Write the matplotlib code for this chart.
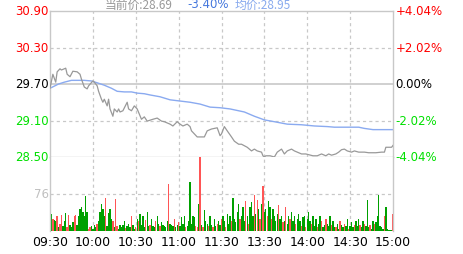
import matplotlib
matplotlib.use("Agg")
import matplotlib.pyplot as plt
import numpy as np

# ---- data ----
prev_close = 29.70
price_min = [0, 2, 4, 5, 7, 8, 11, 12, 14, 16, 19, 21, 22, 24, 26, 27, 30, 31, 33, 34,
             36, 37, 38, 40, 41, 42, 44, 45, 47, 48, 49, 51, 54, 55, 57, 59, 61, 64, 66, 68,
             72, 75, 78, 80, 84, 86, 89, 91, 93, 96, 98, 99, 101, 103, 106, 108, 110, 113, 117, 119,
             120, 122, 124, 127, 129, 132, 134, 138, 141, 143, 145, 148, 149, 150, 151, 154, 157, 159, 162, 164,
             166, 169, 171, 173, 176, 179, 184, 187, 190, 193, 195, 197, 200, 202, 204, 206, 208, 211, 213, 216,
             220, 223, 228, 232, 234, 235, 239, 240]
price_val = [29.63, 29.86, 29.73, 29.90, 29.95, 29.93, 29.96, 29.86, 29.82, 29.91, 29.90, 29.86, 29.78, 29.65, 29.62, 29.67, 29.75, 29.73, 29.67, 29.58,
             29.45, 29.40, 29.45, 29.34, 29.45, 29.29, 29.17, 29.29, 29.24, 29.29, 29.24, 29.26, 29.40, 29.29, 29.26, 29.34, 29.29, 29.12, 29.16, 29.09,
             29.12, 29.14, 29.09, 29.08, 29.04, 29.01, 29.08, 29.04, 29.01, 29.04, 29.00, 28.93, 28.88, 28.83, 28.83, 28.83, 28.93, 28.96, 28.98, 28.85,
             28.88, 29.00, 28.93, 28.83, 28.76, 28.71, 28.71, 28.66, 28.60, 28.63, 28.60, 28.58, 28.52, 28.50, 28.52, 28.52, 28.50, 28.58, 28.63, 28.55,
             28.60, 28.63, 28.60, 28.58, 28.55, 28.55, 28.52, 28.52, 28.55, 28.52, 28.55, 28.53, 28.55, 28.58, 28.62, 28.63, 28.60, 28.58, 28.60, 28.58,
             28.58, 28.57, 28.57, 28.58, 28.58, 28.66, 28.66, 28.69]
avg_min = [0, 6, 10, 15, 20, 24, 29, 33, 38, 43, 47, 52, 57, 61, 66, 70, 77, 84, 91, 98,
           105, 112, 119, 126, 132, 136, 143, 150, 157, 166, 176, 185, 194, 199, 216, 220, 226, 240]
avg_val = [29.63, 29.70, 29.73, 29.76, 29.76, 29.76, 29.75, 29.72, 29.68, 29.63, 29.58, 29.57, 29.57, 29.55, 29.54, 29.52, 29.49, 29.44, 29.42, 29.40,
           29.37, 29.32, 29.31, 29.29, 29.26, 29.24, 29.17, 29.11, 29.08, 29.04, 29.03, 29.01, 29.00, 28.99, 28.99, 28.97, 28.95, 28.95]

volume = [61, 35, 25, 22, 20, 30, 8, 15, 32, 10,
          20, 38, 8, 32, 12, 8, 18, 30, 32, 12,
          30, 45, 50, 40, 30, 71, 40, 5, 8, 10,
          5, 12, 8, 15, 20, 40, 55, 45, 30, 67,
          10, 37, 45, 25, 20, 8, 65, 10, 5, 12,
          8, 12, 20, 6, 10, 15, 8, 30, 12, 5,
          8, 25, 20, 35, 12, 30, 8, 22, 40, 10,
          12, 25, 10, 8, 20, 30, 15, 10, 18, 12,
          10, 8, 20, 96, 15, 12, 10, 25, 8, 12,
          18, 10, 28, 15, 30, 8, 10, 20, 100, 15,
          30, 28, 10, 8, 55, 152, 12, 8, 44, 20,
          15, 10, 30, 12, 8, 25, 10, 15, 20, 12,
          25, 30, 20, 8, 35, 15, 30, 20, 68, 25,
          18, 40, 55, 25, 30, 50, 20, 62, 30, 15,
          50, 60, 30, 74, 35, 64, 45, 25, 55, 92,
          40, 45, 30, 62, 50, 25, 45, 30, 20, 35,
          53, 25, 30, 18, 20, 50, 15, 30, 25, 40,
          20, 30, 15, 25, 35, 20, 10, 28, 30, 8,
          25, 40, 20, 15, 30, 10, 25, 8, 15, 30,
          20, 8, 12, 25, 15, 10, 30, 12, 20, 8,
          8, 15, 5, 20, 12, 8, 15, 10, 25, 5,
          10, 18, 8, 12, 20, 10, 25, 12, 8, 20,
          15, 10, 64, 8, 12, 5, 20, 15, 18, 30,
          73, 10, 8, 5, 30, 50, 5, 3, 3, 3,
          35]
up_minutes = [2, 5, 7, 8, 12, 13, 17, 18, 27, 28, 33, 39, 44, 46, 47, 53, 57, 60, 62, 67, 70, 74, 77,
              83, 87, 90, 95, 102, 103, 105, 107, 111, 114, 117, 120, 123, 127, 133, 137, 139, 143,
              145, 147, 149, 152, 155, 160, 163, 165, 168, 172, 176, 179, 183, 187, 190, 193, 197,
              200, 203, 206, 209, 213, 217, 220, 224, 227, 234, 240]

price_ticks = [30.90, 30.30, 29.70, 29.10, 28.50]
pct_labels = ["+4.04%", "+2.02%", "0.00%", "-2.02%", "-4.04%"]
time_labels = ["09:30", "10:00", "10:30", "11:00", "11:30", "13:30", "14:00", "14:30", "15:00"]
vol_tick = 76
vol_max = 152
header = ["当前价:28.69", "-3.40%", "均价:28.95"]

# ---- style ----
RED = "#ff0000"
GREEN = "#00e000"
GRID = "#c8c8c8"
plt.rcParams['font.family'] = ['Noto Sans CJK SC', 'DejaVu Sans']
FS = 8.5

W, H = 463, 255
fig = plt.figure(figsize=(W / 100, H / 100), dpi=100)
L, R = 50 / W, 393 / W
ax = fig.add_axes([L, (H - 158) / H, R - L, (158 - 12) / H])
axv = fig.add_axes([L, (H - 232) / H, R - L, (232 - 158) / H])

for a in (ax, axv):
    a.set_xlim(0, 240)
    a.set_xticks([])
    a.set_yticks([])
    for s in a.spines.values():
        s.set_color(GRID)
        s.set_linewidth(1)
    for m in range(30, 240, 30):
        a.axvline(m, color=GRID, lw=0.9, ls=(0, (2.5, 2.5)), zorder=0)

ax.set_ylim(price_ticks[-1], price_ticks[0])
ax.axhline(price_ticks[1], color=GRID, lw=0.9, ls=(0, (2.5, 2.5)), zorder=0)
ax.axhline(price_ticks[3], color=GRID, lw=0.9, ls=(0, (2.5, 2.5)), zorder=0)
ax.axhline(prev_close, color=GRID, lw=1.2, zorder=0)

ax.plot(avg_min, avg_val, color="#8aaaf0", lw=1.0, zorder=2)
ax.plot(price_min, price_val, color="#999999", lw=0.9, zorder=3)

lcols = [RED, RED, "black", GREEN, GREEN]
for t, lab, c in zip(price_ticks, pct_labels, lcols):
    ax.text(-0.004, t, f"{t:.2f}", transform=ax.get_yaxis_transform(), ha='right', va='center',
            color=c, fontsize=FS, family='DejaVu Sans')
    ax.text(1.008, t, lab, transform=ax.get_yaxis_transform(), ha='left', va='center',
            color=c, fontsize=FS, family='DejaVu Sans')

# volume
axv.set_ylim(0, vol_max)
axv.spines['top'].set_visible(False)
axv.spines['bottom'].set_visible(False)
axv.axhline(vol_tick, color=GRID, lw=0.9, ls=(0, (2.5, 2.5)), zorder=0)
mins = np.arange(len(volume))
cols = []
for i in mins:
    if i == 0:
        cols.append("black")
    elif i in up_minutes:
        cols.append("#ff5555")
    else:
        cols.append("#00a000")
axv.bar(mins, volume, width=0.95, color=cols, align='center', zorder=2, linewidth=0, antialiased=False)
axv.text(-0.004, vol_tick, str(vol_tick), transform=axv.get_yaxis_transform(), ha='right', va='center',
         color="#c0c0c0", fontsize=FS, family='DejaVu Sans')
for i, lab in enumerate(time_labels):
    axv.text(i * 30, -0.05, lab, transform=axv.get_xaxis_transform(), ha='center', va='top',
             color="black", fontsize=FS + 0.5, family='DejaVu Sans')

# header
y0 = 1 - 5 / H
fig.text(105 / W, y0, header[0], color="#999999", fontsize=FS, va='center', ha='left')
fig.text(187 / W, y0, header[1], color="#4477dd", fontsize=FS, va='center', ha='left', family='DejaVu Sans')
fig.text(235 / W, y0, header[2], color="#88aaee", fontsize=FS, va='center', ha='left')

fig.savefig("out.png", dpi=100)
